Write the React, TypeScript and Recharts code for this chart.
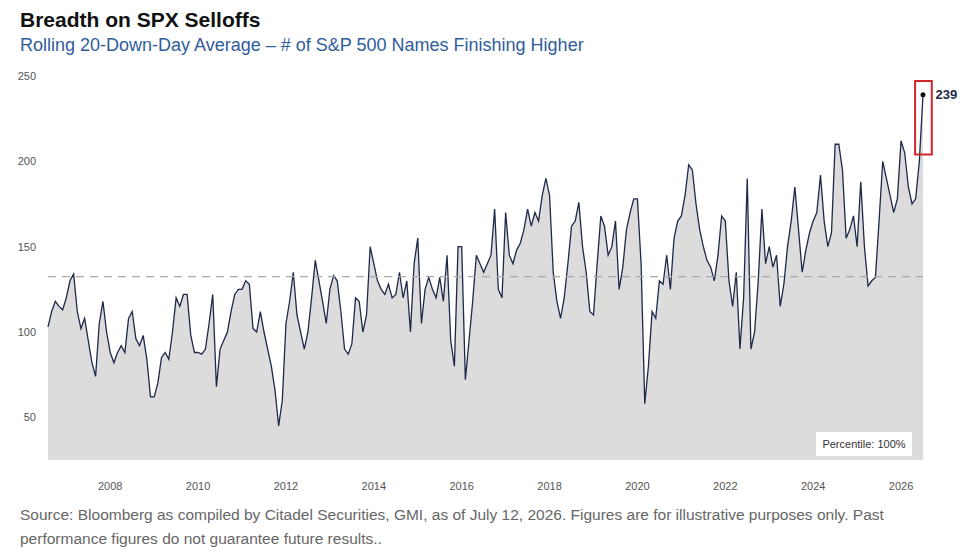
import React from 'react';
import {
  ComposedChart,
  Area,
  XAxis,
  YAxis,
  ReferenceLine,
  ReferenceDot,
  ReferenceArea,
} from 'recharts';

// Monthly readings, first value = Aug 2006, last value = Jul 2026
const START_YEAR = 2006;
const START_MONTH = 7; // 0-based, August

const VALUES_2006 = [103, 112, 118, 115, 113];
const VALUES_2007 = [120, 130, 134, 112, 102, 108, 95, 82, 74, 105, 118, 100];
const VALUES_2008 = [88, 82, 88, 92, 88, 108, 112, 96, 92, 98, 84, 62];
const VALUES_2009 = [62, 70, 85, 88, 84, 100, 120, 115, 122, 122, 98, 88];
const VALUES_2010 = [88, 87, 90, 105, 122, 68, 90, 95, 100, 112, 122, 125];
const VALUES_2011 = [125, 130, 128, 102, 100, 112, 100, 90, 80, 66, 45, 60];
const VALUES_2012 = [105, 118, 135, 110, 100, 90, 100, 120, 142, 130, 118, 105];
const VALUES_2013 = [125, 133, 130, 112, 90, 87, 93, 120, 118, 100, 110, 150];
const VALUES_2014 = [140, 130, 125, 122, 128, 120, 122, 135, 120, 130, 100, 140];
const VALUES_2015 = [155, 105, 125, 132, 125, 120, 132, 118, 145, 95, 80, 150];
const VALUES_2016 = [150, 72, 95, 118, 145, 140, 135, 140, 145, 172, 125, 120];
const VALUES_2017 = [170, 145, 140, 148, 152, 160, 172, 162, 170, 165, 180, 190];
const VALUES_2018 = [180, 135, 118, 108, 120, 140, 162, 165, 176, 150, 135, 112];
const VALUES_2019 = [110, 140, 168, 162, 145, 150, 165, 125, 138, 160, 170, 178];
const VALUES_2020 = [178, 140, 58, 80, 112, 108, 130, 128, 145, 125, 155, 165];
const VALUES_2021 = [168, 180, 198, 195, 175, 160, 150, 142, 138, 130, 145, 168];
const VALUES_2022 = [165, 130, 115, 135, 90, 120, 190, 90, 100, 130, 172, 140];
const VALUES_2023 = [150, 138, 145, 115, 128, 150, 165, 185, 160, 135, 148, 158];
const VALUES_2024 = [165, 170, 192, 165, 150, 158, 210, 210, 195, 155, 160, 168];
const VALUES_2025 = [150, 188, 150, 127, 130, 132, 165, 200, 190, 180, 170, 178];
const VALUES_2026 = [212, 205, 185, 175, 178, 200, 239];

const ALL_VALUES = [
  ...VALUES_2006, ...VALUES_2007, ...VALUES_2008, ...VALUES_2009, ...VALUES_2010,
  ...VALUES_2011, ...VALUES_2012, ...VALUES_2013, ...VALUES_2014, ...VALUES_2015,
  ...VALUES_2016, ...VALUES_2017, ...VALUES_2018, ...VALUES_2019, ...VALUES_2020,
  ...VALUES_2021, ...VALUES_2022, ...VALUES_2023, ...VALUES_2024, ...VALUES_2025,
  ...VALUES_2026,
];

const X_TICKS = [2008, 2010, 2012, 2014, 2016, 2018, 2020, 2022, 2024, 2026];
const Y_TICKS = [50, 100, 150, 200, 250];
const AVERAGE_LEVEL = 132.5;
const LATEST = 239;

const data = ALL_VALUES.map((v, i) => ({
  t: START_YEAR + (START_MONTH + i) / 12,
  v,
}));
const lastT = data[data.length - 1].t;

const FONT = '"Liberation Sans", Arial, sans-serif';

export default function App() {
  return (
    <div style={{ position: 'absolute', left: 0, top: 0, width: 974, height: 556, background: '#fff', fontFamily: FONT }}>
      <div style={{ position: 'absolute', left: 20, top: 8, fontSize: 21, fontWeight: 'bold', color: '#111' }}>
        Breadth on SPX Selloffs
      </div>
      <div style={{ position: 'absolute', left: 20, top: 35, fontSize: 18, color: '#2f5d9b' }}>
        Rolling 20-Down-Day Average – # of S&amp;P 500 Names Finishing Higher
      </div>
      <div style={{ position: 'absolute', left: 0, top: 0 }}>
        <ComposedChart width={974} height={556} data={data} margin={{ top: 76, right: 51, bottom: 66, left: 8 }}>
          <XAxis
            dataKey="t"
            type="number"
            domain={[data[0].t, lastT]}
            ticks={X_TICKS}
            axisLine={false}
            tickLine={false}
            height={30}
            tick={{ fontSize: 11, fill: '#555', dy: 14 }}
          />
          <YAxis
            domain={[25, 250]}
            ticks={Y_TICKS}
            axisLine={false}
            tickLine={false}
            width={40}
            tick={{ fontSize: 11, fill: '#555', dx: -4 }}
          />
          <Area
            type="linear"
            dataKey="v"
            stroke="#1e2849"
            strokeWidth={1.3}
            fill="#dcdcdc"
            fillOpacity={1}
            baseValue={25}
            isAnimationActive={false}
          />
          <ReferenceLine y={AVERAGE_LEVEL} stroke="#aaa" strokeDasharray="8 6" strokeWidth={1.3} />
          <ReferenceArea
            x1={2026.32}
            x2={2026.7}
            y1={204}
            y2={247}
            fill="none"
            stroke="#d0262c"
            strokeWidth={2}
            ifOverflow="visible"
          />
          <ReferenceDot
            x={lastT}
            y={LATEST}
            r={2.5}
            fill="#111"
            stroke="none"
            ifOverflow="visible"
            label={{ value: String(LATEST), position: 'right', offset: 10, fontSize: 13, fontWeight: 'bold', fill: '#1e2849' }}
          />
        </ComposedChart>
      </div>
      <div style={{ position: 'absolute', left: 815, top: 431, width: 96, height: 24, background: '#fff', border: '1px solid #ddd', fontSize: 11, color: '#333', lineHeight: '24px', textAlign: 'center' }}>
        Percentile: 100%
      </div>
      <div style={{ position: 'absolute', left: 20, top: 503, width: 950, fontSize: 15.5, color: '#666', lineHeight: '24px' }}>
        Source: Bloomberg as compiled by Citadel Securities, GMI, as of July 12, 2026. Figures are for illustrative purposes only. Past performance figures do not guarantee future results..
      </div>
    </div>
  );
}
